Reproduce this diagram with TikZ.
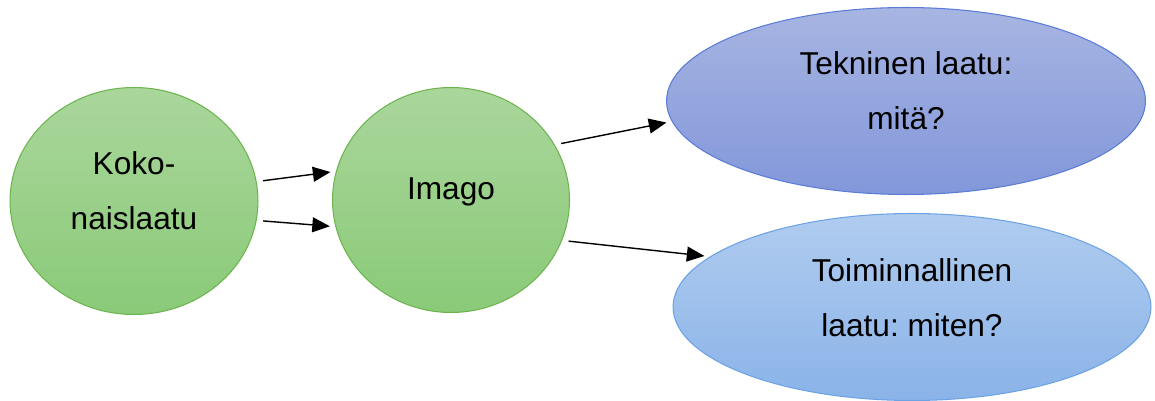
\documentclass[tikz,border=0pt]{standalone}
\usepackage{fontspec}
\setmainfont{Liberation Sans}
\usepackage{tikz}
\usetikzlibrary{positioning, arrows.meta, shapes.geometric}
\frenchspacing

\begin{document}
\begin{tikzpicture}[
    x=0.02cm, y=-0.02cm,
    blob/.style={draw, ellipse, inner sep=0pt, align=center, line width=0.6pt,
                 font=\fontsize{18pt}{31pt}\selectfont, text depth=12pt},
    arr/.style={-{Triangle[length=10pt, width=8.5pt]}, line width=0.8pt,
                shorten <=0.13cm, shorten >=0.11cm},
]

% Color definitions
\definecolor{greenT}{RGB}{170,214,156}
\definecolor{greenB}{RGB}{138,202,120}
\definecolor{greenD}{RGB}{108,181,78}
\definecolor{teknT}{RGB}{167,181,226}
\definecolor{teknB}{RGB}{130,151,218}
\definecolor{teknD}{RGB}{90,124,214}
\definecolor{toimT}{RGB}{176,204,239}
\definecolor{toimB}{RGB}{138,179,232}
\definecolor{toimD}{RGB}{108,163,228}

\useasboundingbox (0,0) rectangle (1155,401);

% Circles left to right
\node[blob, draw=greenD, top color=greenT, bottom color=greenB,
      minimum width=4.96cm, minimum height=4.54cm] (koko) at (134,201)
  {Koko-\\naislaatu};
\node[blob, draw=greenD, top color=greenT, bottom color=greenB,
      minimum width=4.74cm, minimum height=4.5cm, text depth=13pt] (imago) at (451,200)
  {Imago};

% Ovals
\node[blob, draw=teknD, top color=teknT, bottom color=teknB,
      minimum width=9.58cm, minimum height=3.74cm] (tekn) at (906,101)
  {Tekninen laatu:\\mitä?};
\node[blob, draw=toimD, top color=toimT, bottom color=toimB,
      minimum width=9.56cm, minimum height=3.74cm, text depth=11pt] (toim) at (912,307)
  {Toiminnallinen\\laatu: miten?};

% Arrows
\foreach \a/\b in {koko.9/imago.166, koko.-9/imago.193,
                   imago.28/tekn.185, imago.-20/toim.166} {
  \draw[arr] (\a) -- (\b);
}

\end{tikzpicture}
\end{document}
